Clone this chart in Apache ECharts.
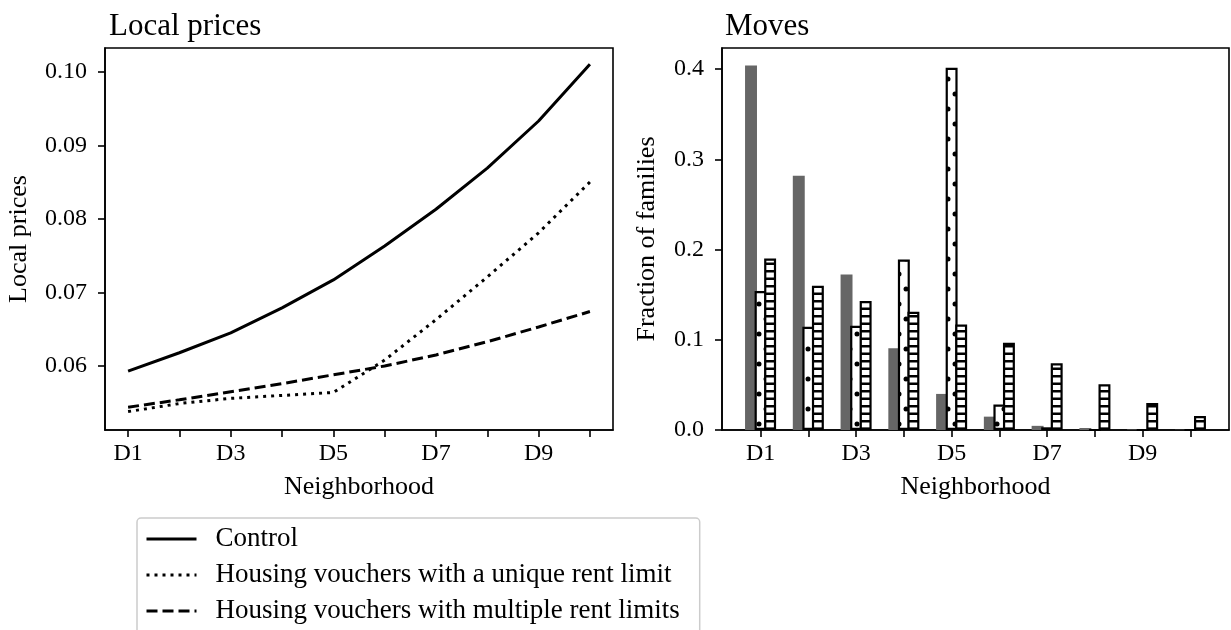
<!DOCTYPE html>
<html>
<head>
<meta charset="utf-8">
<script src="https://cdn.jsdelivr.net/npm/echarts@6/dist/echarts.min.js"></script>
<style>
  html, body { margin: 0; padding: 0; background: #fff; }
  #chart { width: 1231px; height: 630px; }
</style>
</head>
<body>
<div id="chart"></div>
<script>
const categories = ["D1", "D2", "D3", "D4", "D5", "D6", "D7", "D8", "D9", "D10"];

// local prices by neighborhood
const controlPrices = [0.0593, 0.0618, 0.0645, 0.0679, 0.0717, 0.0763, 0.0813, 0.0869, 0.0933, 0.1010];
const uniqueLimitPrices = [0.0538, 0.0549, 0.0556, 0.0560, 0.0564, 0.0608, 0.0663, 0.0721, 0.0781, 0.0850];
const multipleLimitPrices = [0.0544, 0.0554, 0.0565, 0.0576, 0.0588, 0.0600, 0.0615, 0.0633, 0.0653, 0.0674];

// fraction of families moving to each neighborhood
const controlMoves = [0.404, 0.282, 0.1725, 0.0905, 0.040, 0.0148, 0.0046, 0.0022, 0.0006, 0.0003];
const uniqueLimitMoves = [0.154, 0.1145, 0.1156, 0.189, 0.4015, 0.0283, 0.003, 0, 0, 0];
const multipleLimitMoves = [0.1902, 0.160, 0.143, 0.131, 0.117, 0.0967, 0.0739, 0.0506, 0.0299, 0.0155];

const priceTicks = [0.06, 0.07, 0.08, 0.09, 0.10];
const moveTicks = [0, 0.1, 0.2, 0.3, 0.4];
const tickIdx = [0, 1, 2, 3, 4, 5, 6, 7, 8, 9];
const labelIdx = [0, 2, 4, 6, 8];

const names = [
  "Control",
  "Housing vouchers with a unique rent limit",
  "Housing vouchers with multiple rent limits"
];

const font = "Liberation Serif";
const pairs = arr => arr.map((v, i) => [i, v]);

function dotPattern() {
  let c = document.createElement("canvas");
  c.width = 14;
  c.height = 30;
  let ctx = c.getContext("2d");
  ctx.fillStyle = "#fff";
  ctx.fillRect(0, 0, 14, 30);
  ctx.fillStyle = "#000";
  ctx.beginPath();
  ctx.arc(3, 4, 2.5, 0, Math.PI * 2);
  ctx.fill();
  ctx.beginPath();
  ctx.arc(10, 19, 2.5, 0, Math.PI * 2);
  ctx.fill();
  return { image: c, repeat: "repeat" };
}

function hatchPattern() {
  let c = document.createElement("canvas");
  c.width = 4;
  c.height = 15;
  let ctx = c.getContext("2d");
  ctx.fillStyle = "#fff";
  ctx.fillRect(0, 0, 4, 15);
  ctx.fillStyle = "#000";
  ctx.fillRect(0, 0, 4, 2.5);
  ctx.fillRect(0, 7.5, 4, 2.5);
  return { image: c, repeat: "repeat" };
}

const axisLine = { onZero: false, lineStyle: { color: "#000", width: 1.6 } };
const axisTick = { length: 7, lineStyle: { color: "#000", width: 1.6 } };
const labelStyle = { color: "#000", fontFamily: font, fontSize: 24 };
const nameStyle = { color: "#000", fontFamily: font, fontSize: 26 };

const gridBox = { show: true, borderColor: "#000", borderWidth: 1.6, backgroundColor: "#fff" };

let option = {
  backgroundColor: "#fff",
  animation: false,
  title: [
    { text: "Local prices", left: 104, top: 6, textStyle: { fontFamily: font, fontSize: 31, fontWeight: "normal", color: "#000" } },
    { text: "Moves", left: 720, top: 6, textStyle: { fontFamily: font, fontSize: 31, fontWeight: "normal", color: "#000" } }
  ],
  grid: [
    Object.assign({ left: 105, right: 618, top: 48, bottom: 200 }, gridBox),
    Object.assign({ left: 722, right: 2, top: 48, bottom: 200 }, gridBox)
  ],
  legend: {
    data: names,
    orient: "vertical",
    left: 137,
    top: 518,
    height: 160,
    itemWidth: 50,
    itemHeight: 14,
    itemGap: 6,
    padding: [6, 20, 30, 8],
    backgroundColor: "#fff",
    borderColor: "#ccc",
    borderWidth: 1.5,
    borderRadius: 4,
    itemStyle: { opacity: 0 },
    lineStyle: { width: 3 },
    textStyle: { color: "#000", fontFamily: font, fontSize: 27, lineHeight: 30, padding: [0, 0, 0, 14] }
  },
  xAxis: [
    {
      type: "value", gridIndex: 0, min: -0.45, max: 9.45,
      name: "Neighborhood", nameLocation: "middle", nameGap: 44, nameTextStyle: nameStyle,
      splitLine: { show: false },
      axisLine: axisLine,
      axisTick: Object.assign({ customValues: tickIdx }, axisTick),
      axisLabel: Object.assign({ customValues: labelIdx, margin: 12, formatter: v => categories[v] }, labelStyle)
    },
    {
      type: "value", gridIndex: 1, min: -0.8075, max: 9.8075,
      name: "Neighborhood", nameLocation: "middle", nameGap: 44, nameTextStyle: nameStyle,
      splitLine: { show: false },
      axisLine: axisLine,
      axisTick: Object.assign({ customValues: tickIdx }, axisTick),
      axisLabel: Object.assign({ customValues: labelIdx, margin: 12, formatter: v => categories[v] }, labelStyle)
    }
  ],
  yAxis: [
    {
      type: "value", gridIndex: 0, min: 0.0513, max: 0.10322,
      name: "Local prices", nameLocation: "middle", nameGap: 73, nameTextStyle: nameStyle,
      splitLine: { show: false },
      axisLine: axisLine,
      axisTick: Object.assign({ customValues: priceTicks }, axisTick),
      axisLabel: Object.assign({ customValues: priceTicks, margin: 18, formatter: v => v.toFixed(2) }, labelStyle)
    },
    {
      type: "value", gridIndex: 1, min: 0, max: 0.4235,
      name: "Fraction of families", nameLocation: "middle", nameGap: 62, nameTextStyle: nameStyle,
      splitLine: { show: false },
      axisLine: axisLine,
      axisTick: Object.assign({ customValues: moveTicks }, axisTick),
      axisLabel: Object.assign({ customValues: moveTicks, margin: 18, formatter: v => v.toFixed(1) }, labelStyle)
    }
  ],
  series: [
    {
      name: names[0], type: "line", xAxisIndex: 0, yAxisIndex: 0, symbol: "none",
      data: pairs(controlPrices),
      lineStyle: { color: "#000", width: 3, type: "solid" }, itemStyle: { color: "#000" }
    },
    {
      name: names[1], type: "line", xAxisIndex: 0, yAxisIndex: 0, symbol: "none",
      data: pairs(uniqueLimitPrices),
      lineStyle: { color: "#000", width: 3, type: [3, 5], cap: "butt" }, itemStyle: { color: "#000" }
    },
    {
      name: names[2], type: "line", xAxisIndex: 0, yAxisIndex: 0, symbol: "none",
      data: pairs(multipleLimitPrices),
      lineStyle: { color: "#000", width: 3, type: [11, 5], cap: "butt" }, itemStyle: { color: "#000" }
    },
    {
      name: "Control moves", type: "bar", xAxisIndex: 1, yAxisIndex: 1,
      barWidth: "25%", barGap: "-20%",
      data: pairs(controlMoves),
      itemStyle: { color: "#666" }
    },
    {
      name: "Unique limit moves", type: "bar", xAxisIndex: 1, yAxisIndex: 1,
      barWidth: "25%", barGap: "-20%",
      data: pairs(uniqueLimitMoves),
      itemStyle: { color: dotPattern(), borderColor: "#000", borderWidth: 2.2 }
    },
    {
      name: "Multiple limits moves", type: "bar", xAxisIndex: 1, yAxisIndex: 1,
      barWidth: "25%", barGap: "-20%",
      data: pairs(multipleLimitMoves),
      itemStyle: { color: hatchPattern(), borderColor: "#000", borderWidth: 2.2 }
    }
  ]
};

let myChart = echarts.init(document.getElementById("chart"));
myChart.setOption(option);
</script>
</body>
</html>
